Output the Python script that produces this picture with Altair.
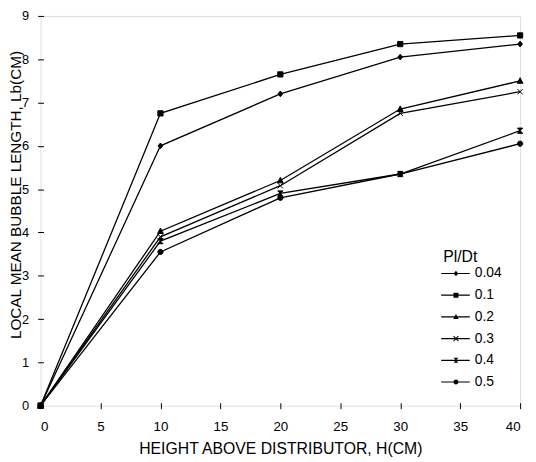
import altair as alt
import pandas as pd

heights = [0, 10, 20, 30, 40]
series_names = ["0.04", "0.1", "0.2", "0.3", "0.4", "0.5"]
s_004 = [0, 6.0, 7.2, 8.05, 8.35]
s_01 = [0, 6.75, 7.65, 8.35, 8.55]
s_02 = [0, 4.03, 5.2, 6.85, 7.5]
s_03 = [0, 3.9, 5.08, 6.75, 7.25]
s_04 = [0, 3.8, 4.9, 5.35, 6.35]
s_05 = [0, 3.55, 4.8, 5.35, 6.05]
all_series = [s_004, s_01, s_02, s_03, s_04, s_05]

rows = []
for name, vals in zip(series_names, all_series):
    for h, v in zip(heights, vals):
        rows.append({"H": h, "Lb": v, "PlDt": name})
df = pd.DataFrame(rows)

# marker paths for the plot (unit box -1..1)
plot_shapes = [
    "M0,-1.1L0.9,0L0,1.1L-0.9,0Z",
    "M-1,-1L1,-1L1,1L-1,1Z",
    "M0,-1.2L1.1,0.9L-1.1,0.9Z",
    "M-1,-1L1,1M-1,1L1,-1",
    "M-1,-1L1,-1L0,0ZM0,0L1,1L-1,1Z",
    "M-1,0A1,1 0 1,1 1,0A1,1 0 1,1 -1,0Z",
]

# legend symbols: a thin filled bar (the line) with the marker in the middle
line_part = "M-3,-0.12L2.8,-0.12L2.8,0.12L-3,0.12Z"
legend_marks = [
    "M0,-0.55L0.45,0L0,0.55L-0.45,0Z",
    "M-0.5,-0.5L0.5,-0.5L0.5,0.5L-0.5,0.5Z",
    "M0,-0.6L0.55,0.45L-0.55,0.45Z",
    "M-0.43,-0.57L0.57,0.43L0.43,0.57L-0.57,-0.43Z"
    "M-0.57,0.43L0.43,-0.57L0.57,-0.43L-0.43,0.57Z",
    "M-0.5,-0.5L0.5,-0.5L0,0ZM0,0L0.5,0.5L-0.5,0.5Z",
    "M-0.5,0A0.5,0.5 0 1,1 0.5,0A0.5,0.5 0 1,1 -0.5,0Z",
]
legend_shapes = [line_part + m for m in legend_marks]

FONT = "Liberation Sans"

x_enc = alt.X(
    "H:Q",
    scale=alt.Scale(domain=[0, 40], nice=False),
    axis=alt.Axis(
        title="HEIGHT ABOVE DISTRIBUTOR, H(CM)",
        values=[0, 5, 10, 15, 20, 25, 30, 35, 40],
        grid=False, domain=False, offset=-3, tickSize=6, tickColor="black",
        labelFont=FONT, labelFontSize=13.5, labelColor="black", labelPadding=11,
        titleFont=FONT, titleFontSize=16, titleFontWeight="normal", titleColor="black",
        titleBaseline="alphabetic", titleY=51,
    ),
)
y_enc = alt.Y(
    "Lb:Q",
    scale=alt.Scale(domain=[0, 9], nice=False),
    axis=alt.Axis(
        title="LOCAL MEAN BUBBLE LENGTH, Lb(CM)",
        values=list(range(0, 10)),
        grid=False, domain=False, offset=-3, tickSize=6, tickColor="black",
        labelFont=FONT, labelFontSize=13, labelColor="black", labelPadding=9,
        titleFont=FONT, titleFontSize=15.5, titleFontWeight="normal", titleColor="black",
        titleAngle=270, titleAlign="center", titleBaseline="middle",
        titleX=-28, titleY=181,
    ),
)

lines = alt.Chart(df).mark_line(color="black", strokeWidth=1.3).encode(
    x=x_enc, y=y_enc, detail="PlDt:N"
)

points = alt.Chart(df).mark_point(
    filled=True, color="black", stroke="black", strokeWidth=1, opacity=1, size=28
).encode(
    x="H:Q",
    y="Lb:Q",
    shape=alt.Shape(
        "PlDt:N",
        scale=alt.Scale(domain=series_names, range=plot_shapes),
        legend=None,
    ),
)

# legend-only layer: no rows pass the filter, the legend keys come from the domain
legend_layer = alt.Chart(df).transform_filter("false").mark_point(
    filled=True, color="black", opacity=1
).encode(
    x="H:Q",
    y="Lb:Q",
    shape=alt.Shape(
        "PlDt:N",
        scale=alt.Scale(domain=series_names, range=legend_shapes),
        legend=alt.Legend(
            title="Pl/Dt",
            orient="none",
            legendX=408,
            legendY=236,
            padding=0,
            symbolSize=100,
            symbolOffset=6,
            labelOffset=12,
            rowPadding=8,
            titlePadding=2,
            symbolFillColor="black",
            titleFont=FONT, titleFontSize=16, titleFontWeight="normal", titleColor="black",
            labelFont=FONT, labelFontSize=14, labelColor="black",
        ),
    ),
)

chart = (
    alt.layer(lines, points, legend_layer)
    .resolve_scale(shape="independent")
    .properties(
        width=486,
        height=395,
        autosize=alt.AutoSizeParams(type="none"),
        padding={"left": 33, "top": 5, "right": 8, "bottom": 52},
    )
    .configure_view(stroke="black", strokeWidth=1.2)
    .configure(background="white")
)

chart.save("out.html", embed_options={"renderer": "svg", "actions": False})
